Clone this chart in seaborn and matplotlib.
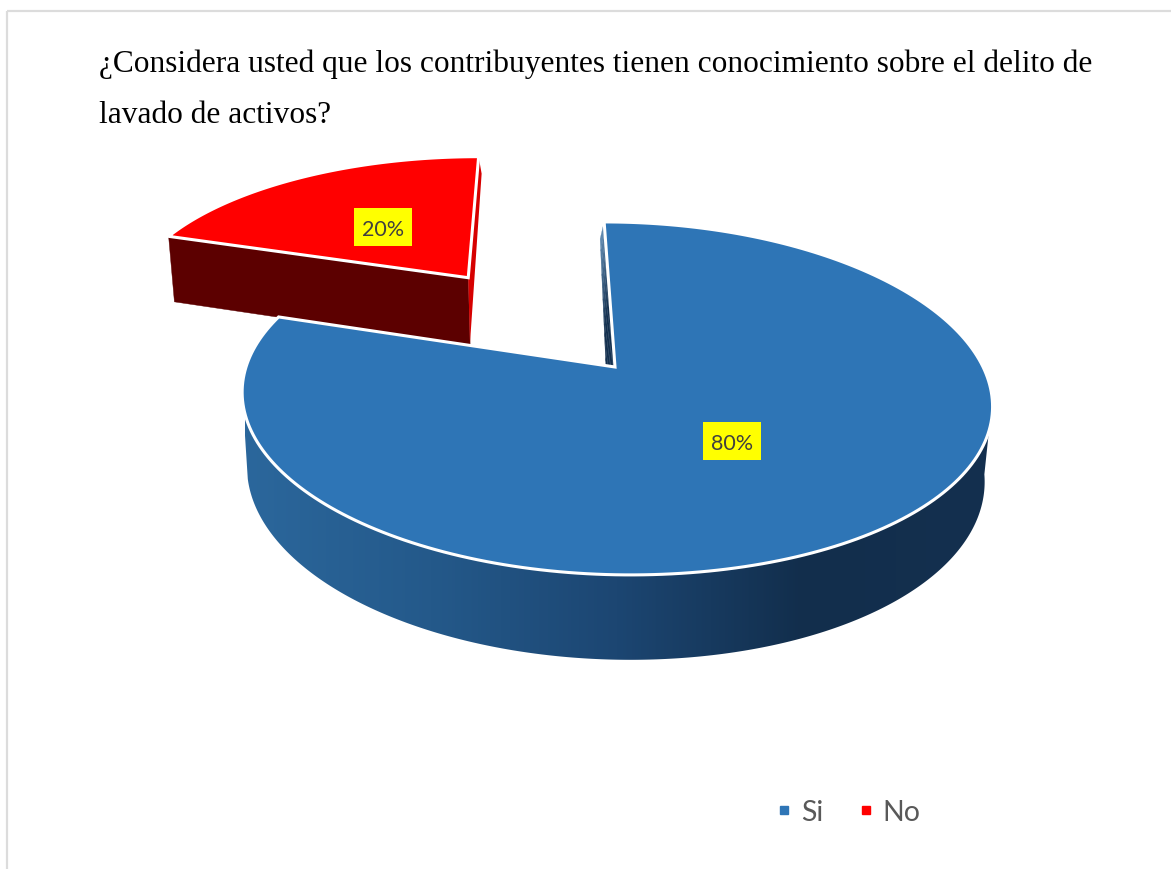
import numpy as np
import matplotlib
matplotlib.use("Agg")
import matplotlib.pyplot as plt
from matplotlib.lines import Line2D
from matplotlib.patches import Polygon, Rectangle
import seaborn as sns

# Survey answers
categories = ["Si", "No"]
shares = [80, 20]
explode = [0.0, 0.712]
title_lines = [
    "¿Considera usted que los contribuyentes tienen conocimiento sobre el delito de",
    "lavado de activos?",
]
slice_colors = ["#2E75B6", "#FF0000"]

# Tilted-disc camera, in pixel units of the canvas
APEX_X, APEX_Y = 615.0, 368.0
RX, RY = 369.0, 170.9
TILT = 0.178
SKEW = 0.075
SAG = 2.0
START_DEG = 0.0
SHRINK_LEFT, SHRINK_RIGHT = 0.987, 0.979
LABEL_RADIUS = [0.48, 0.50]
LABEL_NUDGE = [(0, 3), (3, 3)]

sns.set_theme(style="white")
fig = plt.figure(figsize=(11.71, 8.70), dpi=100, facecolor="white")
ax = fig.add_axes([0, 0, 1, 1])


def project(px, py):
    px, py = np.asarray(px, float), np.asarray(py, float)
    w = 1 + TILT * py
    dx, dy = RX * px / w, -RY * py / w
    sag = SAG * (np.maximum(dx, 0) / 374) ** 2
    return APEX_X + dx + SKEW * dy, APEX_Y + dy + sag


def lowered(px, py):
    """Screen position of the underside below a point of the top face."""
    w = 1 + TILT * np.asarray(py, float)
    sx, sy = project(px, py)
    shrink = np.where(sx < APEX_X, SHRINK_LEFT, SHRINK_RIGHT)
    return APEX_X + (sx - APEX_X) * shrink, sy + 18 + 55 / w


def disc_point(deg, radius, offset):
    a = np.radians(deg)
    return offset[0] + radius * np.sin(a), offset[1] + radius * np.cos(a)


def stacked(pts):
    return np.column_stack([np.asarray(pts[0]), np.asarray(pts[1])])


# Angular extent and plane offset of each slice
fractions = np.array(shares) / sum(shares)
edges = START_DEG + 360 * np.concatenate([[0], np.cumsum(fractions)])
mids = (edges[:-1] + edges[1:]) / 2
offsets = [disc_point(m, e, (0, 0)) for m, e in zip(mids, explode)]

ax.add_patch(Rectangle((7, 12), 1200, 900, fill=False, ec="#dcdcdc", lw=1.6, zorder=0))

# Outer wall of the large slice, shaded smoothly from left to right
wall_cmap = sns.blend_palette(
    ["#2B679C", "#24598A", "#1C4672", "#122E4C", "#14304F"], 256, as_cmap=True
)
wall_t = np.linspace(100, 258, 360)
wall_top = stacked(project(*disc_point(wall_t, 1.0, offsets[0])))
wall_low = stacked(lowered(*disc_point(wall_t, 1.0, offsets[0])))
wall_patch = Polygon(np.vstack([wall_top, wall_low[::-1]]), fc="none", ec="none", zorder=1)
ax.add_patch(wall_patch)
wall_img = ax.imshow(np.linspace(0, 1, 512)[None, :], cmap=wall_cmap, aspect="auto",
                     extent=[245, 990, 680, 380], zorder=1)
wall_img.set_clip_path(wall_patch)

# Front cut face of the separated slice
no_start, no_end = edges[1], edges[2]
no_off = offsets[1]
rim_a = disc_point(no_start, 1.0, no_off)
front = np.array([project(*no_off), project(*rim_a), lowered(*rim_a), lowered(*no_off)])
ax.add_patch(Polygon(front, fc="#5C0000", ec="#5C0000", lw=0.3, zorder=2))

# Narrow cut faces that show on the far edges of both slices
no_far = np.array(project(*disc_point(no_end, 1.0, no_off)))
no_near = np.array(project(*no_off))
sliver = np.array([no_near, no_far, no_far + [3, 17], no_near + [1.7, 66]])
ax.add_patch(Polygon(sliver, fc="#D60000", ec="none", zorder=2))

si_far = np.array(project(*disc_point(edges[0], 1.0, offsets[0])))
si_near = np.array(project(*offsets[0]))
far_foot = si_far + np.array([-4.0, 17.0])
near_foot = si_near + np.array([-6.0, 68.0])
cut_ramp = sns.blend_palette(["#5F88AE", "#14304F", "#14304F"], 16)
for i in range(16):
    f0, f1 = i / 16, (i + 1) / 16
    outer0 = far_foot + f0 * (near_foot - far_foot)
    outer1 = far_foot + f1 * (near_foot - far_foot)
    inner0 = si_far + f0 * (si_near - si_far)
    inner1 = si_far + f1 * (si_near - si_far)
    ax.add_patch(Polygon([inner0, inner1, outer1, outer0], fc=cut_ramp[i],
                         ec=cut_ramp[i], lw=0.2, zorder=3))

# Top faces
for i in (1, 0):
    arc = np.linspace(edges[i], edges[i + 1], 240)
    rim = stacked(project(*disc_point(arc, 1.0, offsets[i])))
    face = np.vstack([np.array(project(*offsets[i]))[None, :], rim])
    ax.add_patch(Polygon(face, fc=slice_colors[i], ec="white", lw=2.2,
                         joinstyle="miter", zorder=4 + (1 - i)))

# Percentage labels on yellow plates
for mid, off, share, radius, nudge in zip(mids, offsets, shares, LABEL_RADIUS, LABEL_NUDGE):
    lx, ly = project(*disc_point(mid, radius, off))
    lx, ly = lx + nudge[0], ly + nudge[1]
    ax.add_patch(Rectangle((lx - 29, ly - 19), 58, 38, fc="#FFFF00", ec="none", zorder=7))
    ax.text(lx, ly, f"{share}%", ha="center", va="center_baseline", fontsize=15.5,
            family="Lato", color="#404040", zorder=8)

# Two-line heading
for line, base in zip(title_lines, [72, 123]):
    ax.text(99, base, line, ha="left", va="baseline", fontsize=22.6,
            family="Liberation Serif", color="black")

handles = [
    Line2D([], [], ls="none", marker="s", ms=5.5, mfc=c, mec=c) for c in slice_colors
]
ax.set_xlim(0, 1171)
ax.set_ylim(870, 0)
ax.axis("off")
ax.legend(handles, categories, ncol=2, frameon=False, loc="center",
          bbox_to_anchor=(838, 813), bbox_transform=ax.transData,
          prop={"family": "Lato", "size": 20.5}, labelcolor="#595959",
          handletextpad=-0.4, columnspacing=0.5)

fig.savefig("out.png", dpi=100, facecolor="white")
